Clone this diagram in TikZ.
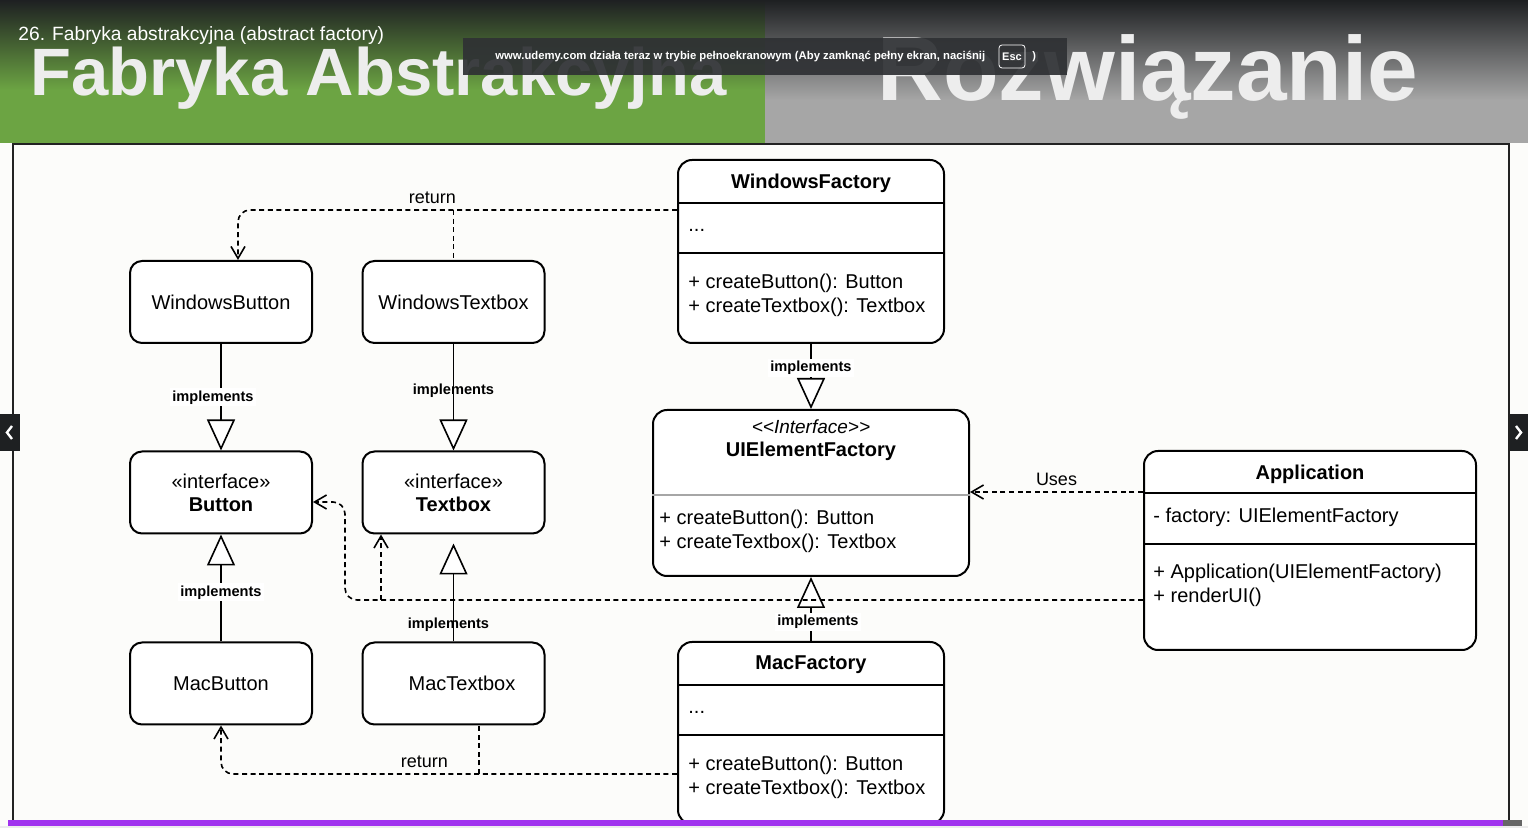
\documentclass[tikz,border=0pt]{standalone}
\usepackage{fontspec}
\setmainfont{Liberation Sans}
\usetikzlibrary{arrows.meta}

\definecolor{bannergreen}{HTML}{6CA443}
\definecolor{bannergray}{HTML}{A6A6A6}
\definecolor{bannerdark}{HTML}{1E2022}
\definecolor{toastgray}{HTML}{2F3134}
\definecolor{barpurple}{HTML}{A033EE}
\definecolor{pagewhite}{HTML}{FCFCFA}
\definecolor{linegray}{HTML}{222222}

\begin{document}
\begin{tikzpicture}[x=0.5pt, y=-0.5pt,
  box/.style={draw, line width=1pt, rounded corners=6pt, fill=white, minimum width=91pt, minimum height=41pt, inner sep=0pt, align=center, font=\fontsize{10}{11.5}\selectfont},
  classbox/.style={draw, line width=1pt, rounded corners=7pt, fill=white, inner sep=0pt},
  title/.style={inner sep=0pt, font=\fontsize{10}{12}\selectfont\bfseries},
  member/.style={anchor=west, align=left, inner sep=0pt, font=\fontsize{10}{12}\selectfont},
  impl/.style={line width=0.8pt, -{Triangle[fill=white, length=15.5pt, width=14pt]}},
  impllbl/.style={font=\fontsize{7.3}{8}\selectfont\bfseries, fill=white, inner sep=1pt},
  dashline/.style={line width=0.8pt, dash pattern=on 2.5pt off 1.8pt},
  uses/.style={dashline, -{Straight Barb[length=6pt, width=7pt]}},
  deplbl/.style={font=\fontsize{9}{10}\selectfont, inner sep=1pt},
]
\useasboundingbox (0,0) rectangle (1528,828);

% banner
\shade[top color=bannerdark, bottom color=bannergreen] (0,0) rectangle (765,90);
\fill[bannergreen] (0,90) rectangle (765,143);
\shade[top color=bannerdark, bottom color=bannergray] (765,0) rectangle (1528,100);
\fill[bannergray] (765,100) rectangle (1528,143);
\fill[pagewhite] (0,143) rectangle (1528,828);
\draw[linegray, line width=1pt] (13,828) -- (13,144) -- (1509,144) -- (1509,828);

\node[anchor=base west, inner sep=0pt, text=white, font=\fontsize{9.6}{10}\selectfont] (chapter) at (18,41) {26. Fabryka abstrakcyjna (abstract factory)};
\node[anchor=base west, inner sep=0pt, text=white!93!black, font=\fontsize{33.5}{36}\selectfont\bfseries] (slidetitle) at (30,96) {Fabryka Abstrakcyjna};
\node[anchor=base west, inner sep=0pt, text=white!93!black, font=\fontsize{45.5}{47}\selectfont\bfseries] (solution) at (877,101) {Rozwiązanie};

% fullscreen toast
\fill[toastgray, opacity=0.92] (463,38) rectangle (1067,75);
\node[anchor=west, inner sep=0pt, text=white, font=\fontsize{5.65}{6}\selectfont\bfseries] (toast) at (495,57) {www.udemy.com działa teraz w trybie pełnoekranowym (Aby zamknąć pełny ekran, naciśnij};
\node[draw=white, line width=0.4pt, rounded corners=1.5pt, minimum width=13pt, minimum height=11.5pt, inner sep=0pt, text=white, font=\fontsize{5.5}{6}\selectfont\bfseries] (esc) at (1012,56.5) {Esc};
\node[anchor=west, inner sep=0pt, text=white, font=\fontsize{5.5}{6}\selectfont\bfseries] (paren) at (1032,57) {)};

% side tabs
\fill[bannerdark] (0,414) rectangle (20,451);
\draw[white, line width=1.2pt] (12,426) -- (7,432.5) -- (12,439);
\fill[bannerdark] (1510,414) rectangle (1528,451);
\draw[white, line width=1.2pt] (1516,426) -- (1521,432.5) -- (1516,439);

% products
\node[box] (wbtn) at (221,302) {WindowsButton};
\node[box] (wtxt) at (453.5,302) {WindowsTextbox};
\node[box] (ibtn) at (221,492.5) {«interface»\\\textbf{Button}};
\node[box] (itxt) at (453.5,492.5) {«interface»\\\textbf{Textbox}};
\node[box] (mbtn) at (221,683.5) {MacButton};
\node[box] (mtxt) at (453.5,683.5) {\hspace*{8.5pt}MacTextbox};

% factories
\node[classbox, minimum width=133pt, minimum height=91.5pt] (wf) at (811,251.5) {};
\draw[line width=1pt] (wf.west |- 0,203) -- (wf.east |- 0,203);
\draw[line width=1pt] (wf.west |- 0,253) -- (wf.east |- 0,253);
\node[title] (wftitle) at (811,183) {WindowsFactory};
\node[member] (wfattr) at (688,230) {...};
\node[member] (wfops) at (688,295) {+ createButton(): Button\\+ createTextbox(): Textbox};

\node[classbox, minimum width=158pt, minimum height=83pt] (uie) at (811,493) {};
\draw[gray!70, line width=1pt] (uie.west |- 0,495) -- (uie.east |- 0,495);
\node[inner sep=0pt, font=\fontsize{9.5}{11}\selectfont\itshape] (uiestereo) at (811,427) {{<}{<}Interface{>}{>}};
\node[title] (uietitle) at (811,451) {UIElementFactory};
\node[member] (uieops) at (659,531) {+ createButton(): Button\\+ createTextbox(): Textbox};

\node[classbox, minimum width=166pt, minimum height=99.5pt] (app) at (1310,550.5) {};
\draw[line width=1pt] (app.west |- 0,493) -- (app.east |- 0,493);
\draw[line width=1pt] (app.west |- 0,544) -- (app.east |- 0,544);
\node[title] (apptitle) at (1310,474) {Application};
\node[member] (appattr) at (1153,517) {- factory: UIElementFactory};
\node[member] (appops) at (1153,585.5) {+ Application(UIElementFactory)\\+ renderUI()};

\node[classbox, minimum width=133pt, minimum height=91pt] (mf) at (811,733) {};
\draw[line width=1pt] (mf.west |- 0,685) -- (mf.east |- 0,685);
\draw[line width=1pt] (mf.west |- 0,735) -- (mf.east |- 0,735);
\node[title] (mftitle) at (811,665) {MacFactory};
\node[member] (mfattr) at (688,712) {...};
\node[member] (mfops) at (688,777) {+ createButton(): Button\\+ createTextbox(): Textbox};

% implements
\draw[impl] (wbtn) -- (ibtn) node[impllbl, pos=0.5, xshift=-4pt] {implements};
\draw[impl] (wtxt) -- (itxt) node[impllbl, fill=none, pos=0.435] {implements};
\draw[impl] (mbtn) -- (ibtn) node[impllbl, pos=0.46] {implements};
\draw[impl, shorten >=4.5pt] (mtxt) -- (itxt) node[impllbl, fill=none, pos=0.16, xshift=-2.5pt] {implements};
\draw[impl] (wf) -- (uie) node[impllbl, pos=0.37] {implements};
\draw[impl] (mf) -- (uie) node[impllbl, pos=0.3, xshift=3.5pt] {implements};

% dependencies
\draw[uses] (app.west |- 0,492) -- node[deplbl, above=2pt] {Uses} (uie.east |- 0,492);
\draw[uses, rounded corners=6pt] (app.west |- 0,600) -- (345,600) -- (345,502) -- (ibtn.east |- 0,502);
\draw[uses] (381,600) -- (381,0 |- itxt.south);
\draw[uses, rounded corners=6pt] (wf.west |- 0,210) -- node[deplbl, above=2pt, pos=0.557] {return} (238,210) -- (238,0 |- wbtn.north);
\draw[dashline] (453.5,210) -- (wtxt.north);
\draw[uses, rounded corners=6pt] (mf.west |- 0,774) -- node[deplbl, above=2pt, pos=0.554] {return} (221,774) -- (mbtn.south);
\draw[dashline] (479,774) -- (479,0 |- mtxt.south);

% progress bar
\fill[barpurple] (8,820) rectangle (1503,826);
\fill[gray!80!black] (1503,820) rectangle (1522,826);
\fill[gray!15] (0,826) rectangle (1528,828);
\end{tikzpicture}
\end{document}
